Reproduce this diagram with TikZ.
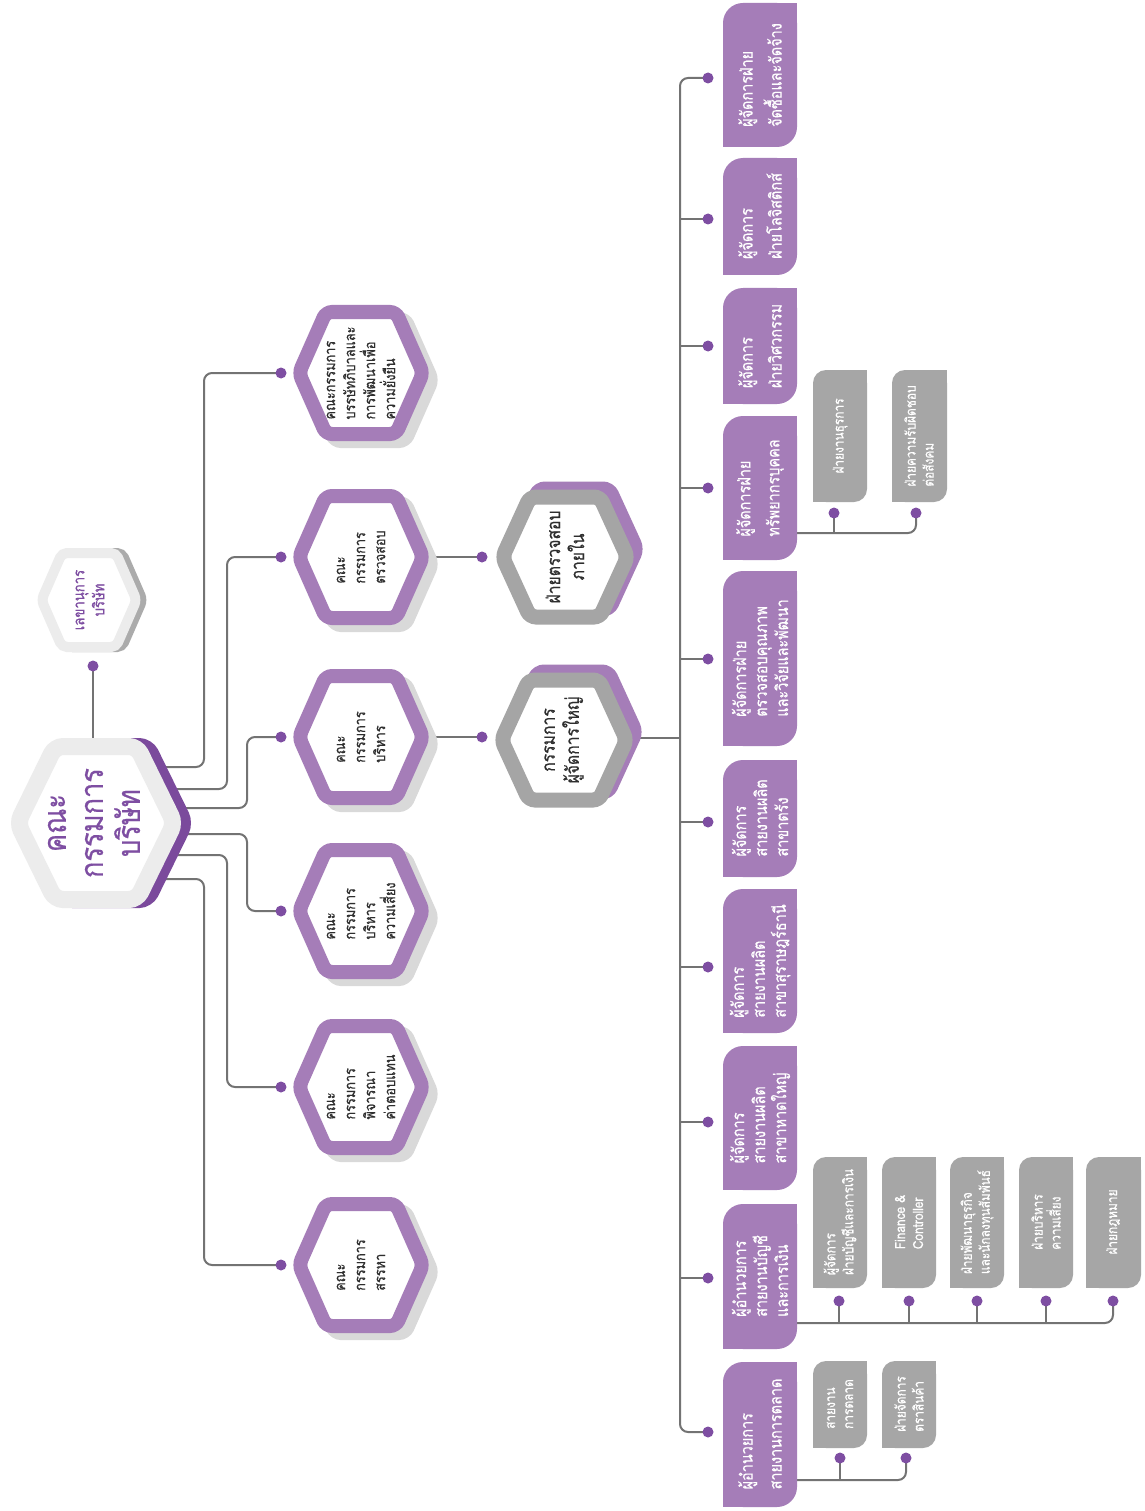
\documentclass[tikz,border=0pt]{standalone}
\usepackage{fontspec}
\newfontfamily\thai[Script=Thai,FakeStretch=0.85,FakeBold=0.5]{Loma}
\definecolor{boxp}{HTML}{A57DB8}
\definecolor{dotp}{HTML}{7E4EA2}
\definecolor{mainsh}{HTML}{7B4A9C}
\definecolor{lgray}{HTML}{ECECEC}
\definecolor{secsh}{HTML}{ABABAB}
\definecolor{hgray}{HTML}{A5A5A5}
\definecolor{sgray}{HTML}{A6A6A6}
\definecolor{shgray}{HTML}{D9D9D9}
\definecolor{linec}{HTML}{737373}
\definecolor{txtd}{HTML}{2E2E2E}
\newcommand\hexshape[6]{%
  \path[#6] ({#1-#3},{#2}) -- ({#1-#5},{#2-#4}) -- ({#1+#5},{#2-#4}) -- ({#1+#3},{#2}) -- ({#1+#5},{#2+#4}) -- ({#1-#5},{#2+#4}) -- cycle;}
\newcommand\tagbox[6]{%
  \fill[#6,rounded corners=#5] (#1,#2) rectangle (#3,#4);
  \fill[#6] ({#3-#5},#2) rectangle (#3,{#2+#5});
  \fill[#6] (#1,{#4-#5}) rectangle ({#1+#5},#4);}
\newcommand\comhex[2]{%
  \hexshape{#1+9}{#2+7}{62}{61}{35}{fill=shgray,draw=shgray,line width=14pt,rounded corners=6pt}
  \hexshape{#1}{#2}{62}{61}{35}{fill=white,draw=boxp,line width=14pt,rounded corners=6pt}}
\newcommand\grayhex[2]{%
  \hexshape{#1+9}{#2-8}{62.5}{60}{35}{fill=boxp,draw=boxp,line width=15pt,rounded corners=6pt}
  \hexshape{#1}{#2}{62.5}{60}{35}{fill=white,draw=hgray,line width=15pt,rounded corners=6pt}}
\begin{document}
\begin{tikzpicture}[x=1pt,y=-1pt,
  conn/.style={draw=linec,line width=2pt,rounded corners=8pt},
  mtxt/.style={rotate=90,align=center,text=dotp,font=\thai\fontsize{32}{37}\selectfont,inner sep=0pt},
  stxt/.style={rotate=90,align=center,text=dotp,font=\thai\fontsize{15.5}{20}\selectfont,inner sep=0pt},
  ctxt/.style={rotate=90,align=left,text=txtd,font=\thai\fontsize{15}{20}\selectfont,inner sep=0pt},
  gtxt/.style={rotate=90,align=center,text=txtd,font=\thai\fontsize{18.5}{24}\selectfont,inner sep=0pt},
  btxt/.style={rotate=90,align=left,text=white,font=\thai\fontsize{17}{21}\selectfont,inner sep=0pt},
  btxtw/.style={btxt,font=\thai\fontsize{17}{29}\selectfont},
  subtxt/.style={rotate=90,align=left,text=white,font=\thai\fontsize{14}{18}\selectfont,inner sep=0pt}]
\useasboundingbox (0,0) rectangle (1144,1511);
\fill[white] (0,0) rectangle (1144,1511);

% ---------- coordinates ----------
\coordinate (bstart1) at (150,767);
\coordinate (bstart2) at (150,789);
\coordinate (bstart3) at (150,808);
\coordinate (bstart4) at (150,834);
\coordinate (bstart5) at (150,855);
\coordinate (bstart6) at (150,879);
\coordinate (cd1) at (281,373);
\coordinate (cd2) at (281,557);
\coordinate (cd3) at (281,737);
\coordinate (cd4) at (281,911);
\coordinate (cd5) at (281,1087);
\coordinate (cd6) at (281,1265);
\coordinate (secdot) at (93,666);
\coordinate (secend) at (93,760);
\coordinate (auddot) at (482,557);
\coordinate (ceodot) at (482,737);
\coordinate (ceoout) at (600,738);
\coordinate (bus) at (680,738);
\foreach \n/\y in {1/78,2/219,3/346,4/488,5/659,6/822,7/967,8/1122,9/1278,10/1432}
  {\coordinate (md\n) at (708,\y); \coordinate (mb\n) at (680,\y);}

% ---------- connectors ----------
\draw[conn] (secend) -- (secdot);
\draw[conn] (bstart1) -| (204,373) -- (cd1);
\draw[conn] (bstart2) -| (227,557) -- (cd2);
\draw[conn] (bstart3) -| (247,737) -- (cd3);
\draw[conn] (bstart4) -| (247,911) -- (cd4);
\draw[conn] (bstart5) -| (227,1087) -- (cd5);
\draw[conn] (bstart6) -| (204,1265) -- (cd6);
\draw[conn] (361,557) -- (auddot);
\draw[conn] (361,737) -- (ceodot);
\draw[conn] (ceoout) -- (bus);
\draw[conn] (md1) -- (mb1) -- (mb10) -- (md10);
\foreach \n in {2,...,9} {\draw[conn] (mb\n) -- (md\n);}

% sub connectors
\draw[conn] (760,533) -| (916,513);
\draw[conn] (834,533) -- (834,513);
\draw[conn] (760,1323) -| (1113,1301);
\foreach \x in {839,909,977,1046} {\draw[conn] (\x,1323) -- (\x,1301);}
\draw[conn] (760,1480) -| (906,1458);
\draw[conn] (840,1480) -- (840,1458);

% ---------- hexagons ----------
\hexshape{106}{823}{78.5}{76.5}{41}{fill=mainsh,draw=mainsh,line width=17pt,rounded corners=8pt}
\hexshape{96}{823}{78.5}{76.5}{41}{fill=white,draw=lgray,line width=17pt,rounded corners=8pt}
\node[mtxt] (board) at (94,823) {คณะ\\กรรมการ\\บริษัท};

\hexshape{95}{600}{47.5}{47}{27}{fill=secsh,draw=secsh,line width=10pt,rounded corners=5pt}
\hexshape{89}{600}{47.5}{47}{27}{fill=white,draw=lgray,line width=10pt,rounded corners=5pt}
\node[stxt] (sec) at (90,600) {เลขานุการ\\บริษัท};

\comhex{361}{373}
\comhex{361}{557}
\comhex{361}{737}
\comhex{361}{911}
\comhex{361}{1087}
\comhex{361}{1265}
\node[ctxt] (c1) at (361,373) {คณะกรรมการ\\บรรษัทภิบาลและ\\การพัฒนาเพื่อ\\ความยั่งยืน};
\node[ctxt] (c2) at (361,557) {คณะ\\กรรมการ\\ตรวจสอบ};
\node[ctxt] (c3) at (361,737) {คณะ\\กรรมการ\\บริหาร};
\node[ctxt] (c4) at (361,911) {คณะ\\กรรมการ\\บริหาร\\ความเสี่ยง};
\node[ctxt] (c5) at (361,1087) {คณะ\\กรรมการ\\พิจารณา\\ค่าตอบแทน};
\node[ctxt] (c6) at (361,1265) {คณะ\\กรรมการ\\สรรหา};

\grayhex{565}{557}
\grayhex{564}{740}
\node[gtxt] (aud) at (565,557) {ฝ่ายตรวจสอบ\\ภายใน};
\node[gtxt] (ceo) at (564,740) {กรรมการ\\ผู้จัดการใหญ่};

% ---------- manager boxes ----------
\tagbox{723}{3}{797}{147}{20}{boxp}
\tagbox{723}{158}{797}{275}{20}{boxp}
\tagbox{723}{288}{797}{404}{20}{boxp}
\tagbox{723}{416}{797}{560}{20}{boxp}
\tagbox{723}{571}{797}{746}{20}{boxp}
\tagbox{723}{760}{797}{877}{20}{boxp}
\tagbox{723}{889}{797}{1033}{20}{boxp}
\tagbox{723}{1046}{797}{1190}{20}{boxp}
\tagbox{723}{1204}{797}{1349}{20}{boxp}
\tagbox{723}{1362}{797}{1507}{20}{boxp}
\node[btxtw] (m1) at (760,75) {ผู้จัดการฝ่าย\\จัดซื้อและจัดจ้าง};
\node[btxtw] (m2) at (760,216) {ผู้จัดการ\\ฝ่ายโลจิสติกส์};
\node[btxtw] (m3) at (760,346) {ผู้จัดการ\\ฝ่ายวิศวกรรม};
\node[btxtw] (m4) at (760,488) {ผู้จัดการฝ่าย\\ทรัพยากรบุคคล};
\node[btxt] (m5) at (760,658) {ผู้จัดการฝ่าย\\ตรวจสอบคุณภาพ\\และวิจัยและพัฒนา};
\node[btxt] (m6) at (760,818) {ผู้จัดการ\\สายงานผลิต\\สาขาตรัง};
\node[btxt] (m7) at (760,961) {ผู้จัดการ\\สายงานผลิต\\สาขาสุราษฎร์ธานี};
\node[btxt] (m8) at (760,1118) {ผู้จัดการ\\สายงานผลิต\\สาขาหาดใหญ่};
\node[btxt] (m9) at (760,1276) {ผู้อำนวยการ\\สายงานบัญชี\\และการเงิน};
\node[btxtw] (m10) at (760,1434) {ผู้อำนวยการ\\สายงานการตลาด};

% ---------- sub boxes ----------
\tagbox{813}{370}{867}{502}{13}{sgray}
\tagbox{892}{370}{947}{502}{13}{sgray}
\node[subtxt] (h1) at (840,436) {ฝ่ายงานธุรการ};
\node[subtxt] (h2) at (919,436) {ฝ่ายความรับผิดชอบ\\ต่อสังคม};

\tagbox{813}{1157}{867}{1288}{13}{sgray}
\tagbox{882}{1157}{936}{1288}{13}{sgray}
\tagbox{950}{1157}{1004}{1288}{13}{sgray}
\tagbox{1019}{1157}{1073}{1288}{13}{sgray}
\tagbox{1086}{1157}{1141}{1288}{13}{sgray}
\node[subtxt] (f1) at (840,1222) {ผู้จัดการ\\ฝ่ายบัญชีและการเงิน};
\node[subtxt] (f2) at (909,1222) {Finance \&\\Controller};
\node[subtxt] (f3) at (977,1222) {ฝ่ายพัฒนาธุรกิจ\\และนักลงทุนสัมพันธ์};
\node[subtxt] (f4) at (1046,1222) {ฝ่ายบริหาร\\ความเสี่ยง};
\node[subtxt] (f5) at (1113,1222) {ฝ่ายกฎหมาย};

\tagbox{813}{1361}{867}{1448}{13}{sgray}
\tagbox{882}{1361}{936}{1448}{13}{sgray}
\node[subtxt] (k1) at (840,1404) {สายงาน\\การตลาด};
\node[subtxt] (k2) at (909,1404) {ฝ่ายจัดการ\\ตราสินค้า};

% ---------- dots ----------
\foreach \p in {secdot,cd1,cd2,cd3,cd4,cd5,cd6,auddot,ceodot,md1,md2,md3,md4,md5,md6,md7,md8,md9,md10}
  {\fill[dotp] (\p) circle (5.5);}
\foreach \x/\y in {834/513,916/513,839/1301,909/1301,977/1301,1046/1301,1113/1301,840/1458,906/1458}
  {\fill[dotp] (\x,\y) circle (5.5);}
\end{tikzpicture}
\end{document}
